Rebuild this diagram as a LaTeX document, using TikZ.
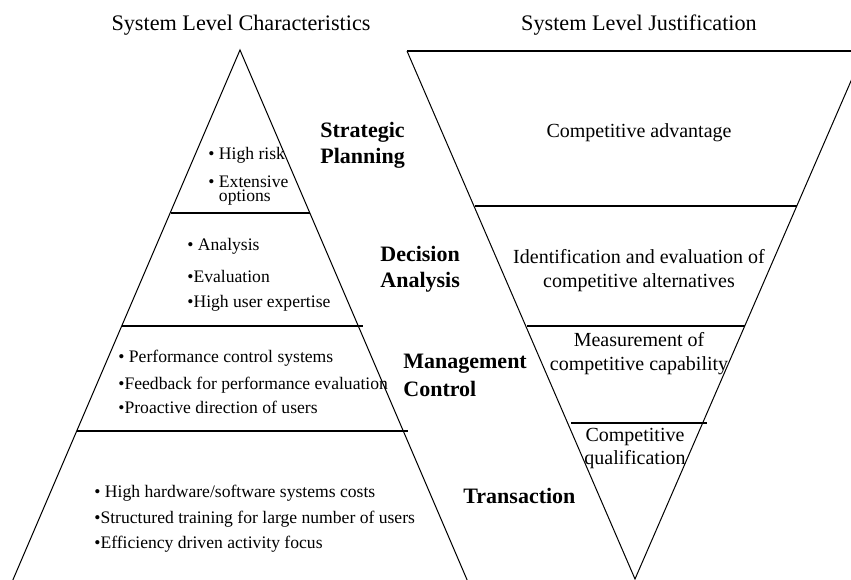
\documentclass[tikz,border=0pt]{standalone}
\usepackage{fontspec}
\setmainfont{Liberation Serif}
\usepackage{tikz}

\tikzset{
  heading/.style={font=\fontsize{11.1}{13}\selectfont, inner sep=0pt},
  level/.style={font=\fontsize{11}{13}\selectfont\bfseries, align=left, inner sep=0pt},
  traits/.style={font=\fontsize{8.8}{12.5}\selectfont, align=left, inner sep=0pt},
  reason/.style={font=\fontsize{10}{12}\selectfont, align=center, inner sep=0pt},
  edge/.style={line width=0.5pt},
  cut/.style={line width=0.6pt}
}

\begin{document}
\begin{tikzpicture}[x=0.5pt,y=-0.5pt]
\clip (0,0) rectangle (851,579);
% pyramid and funnel
\draw[edge] (12,582) -- (240,50) -- (468,582);
\draw[edge] (407,51) -- (635,579) -- (864,51);
\draw[cut] (407,51) -- (864,51);
\foreach \y/\a/\b in {213/171/310, 326/122/363, 431/77/408} \draw[cut] (\a,\y) -- (\b,\y);
\foreach \y/\a/\b in {206/475/797, 326/527/745, 423/571/707} \draw[cut] (\a,\y) -- (\b,\y);
% headings
\node[heading, anchor=base] (chartitle) at (241,30) {System Level Characteristics};
\node[heading, anchor=base] (justtitle) at (639,30) {System Level Justification};
% levels (base = last line)
\node[level, anchor=base west] (strategic) at (320,163) {Strategic\\Planning};
\node[level, anchor=base west] (decision) at (380,287) {Decision\\Analysis};
\node[level, anchor=base west] (management) at (403,396) {Management\\[1pt]Control};
\node[level, anchor=base west] (transaction) at (463,503) {Transaction};
% characteristics
\node[traits, anchor=base west] (risk) at (208,201) {• High risk\\[1.5pt]• Extensive\\[-5.5pt]\phantom{• }options};
\node[traits, anchor=base west] (analysis) at (187,307) {• Analysis\\[3.5pt]•Evaluation\\•High user expertise};
\node[traits, anchor=base west] (control) at (118,413) {• Performance control systems\\[1pt]•Feedback for performance evaluation\\[-0.5pt]•Proactive direction of users};
\node[traits, anchor=base west] (costs) at (94,548) {• High hardware/software systems costs\\[0.5pt]•Structured training for large number of users\\•Efficiency driven activity focus};
% justification
\node[reason, anchor=base] (advantage) at (639,137) {Competitive advantage};
\node[reason, anchor=base] (alternatives) at (639,287) {Identification and evaluation of\\competitive alternatives};
\node[reason, anchor=base] (capability) at (639,370) {Measurement of\\competitive capability};
\node[reason, anchor=base] (qualification) at (635,464) {Competitive\\[-0.5pt]qualification};
\end{tikzpicture}
\end{document}
